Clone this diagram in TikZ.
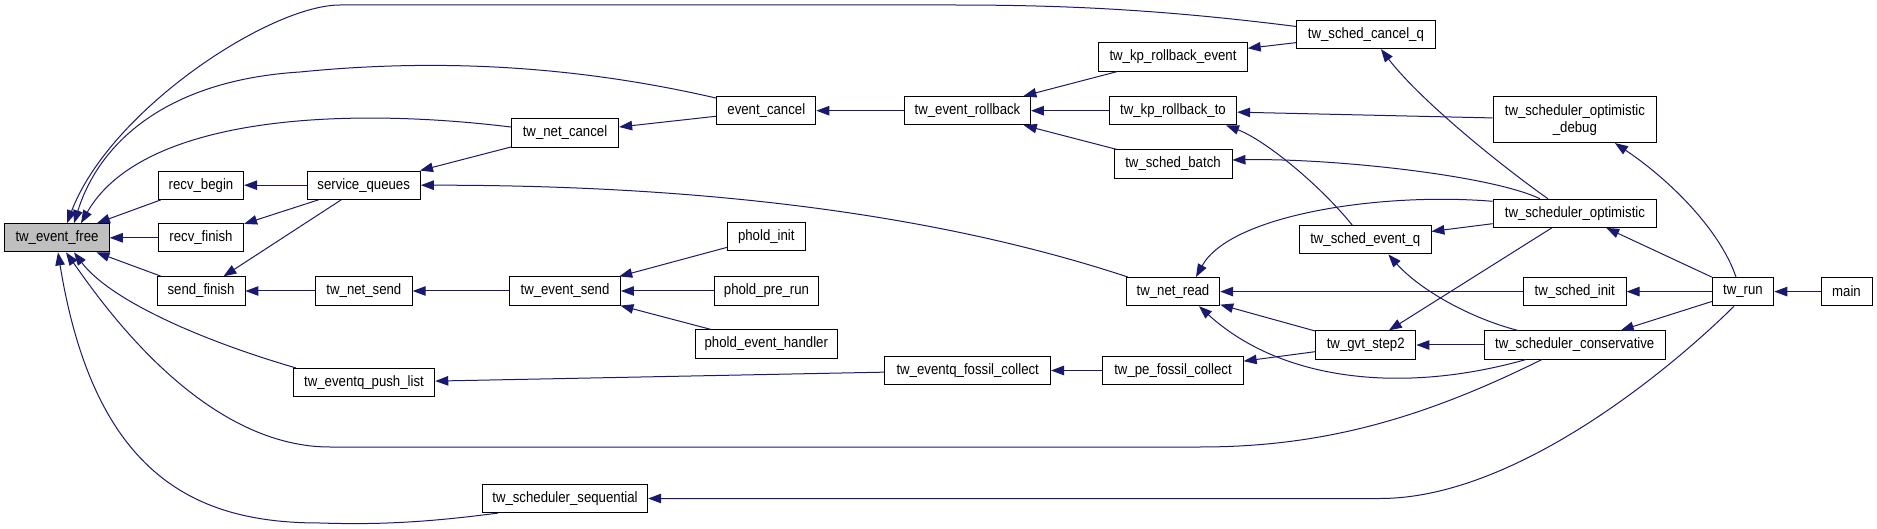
\documentclass[tikz,border=0pt]{standalone}
\usepackage{fontspec}
\setmainfont{Liberation Sans}[FakeStretch=0.88]
\usetikzlibrary{arrows.meta}
\definecolor{edgec}{HTML}{191970}
\definecolor{greyfill}{HTML}{BFBFBF}
\begin{document}
\begin{tikzpicture}[x=1pt,y=-1pt,
  box/.style={draw=black, line width=0.9pt, fill=white, minimum height=28.3pt, inner sep=0pt, font=\fontsize{15}{17}\selectfont},
  call/.style={draw=edgec, line width=1pt, -{Triangle[length=13pt,width=9.5pt]}}]
\useasboundingbox (0,0) rectangle (1877,529);
% column 1
\node[box, minimum width=104.6pt, fill=greyfill] (tef) at (57,237.8) {tw\_event\_free};
% column 2
\node[box, minimum width=85.3pt] (rb) at (201,185.2) {recv\_begin};
\node[box, minimum width=85.3pt] (rf) at (201,237.8) {recv\_finish};
\node[box, minimum width=88pt] (sf) at (201,291) {send\_finish};
% column 3
\node[box, minimum width=113.4pt] (sq) at (363.7,185.2) {service\_queues};
\node[box, minimum width=96.7pt] (tns) at (363.9,291) {tw\_net\_send};
\node[box, minimum width=141.6pt] (pl) at (364,382.5) {tw\_eventq\_push\_list};
% column 4
\node[box, minimum width=107.4pt] (tnc) at (565,133) {tw\_net\_cancel};
\node[box, minimum width=111pt] (tes) at (565,291) {tw\_event\_send};
\node[box, minimum width=165.4pt] (sseq) at (565,498.5) {tw\_scheduler\_sequential};
% column 5
\node[box, minimum width=99.2pt] (ec) at (766.3,110.7) {event\_cancel};
\node[box, minimum width=78pt] (pi) at (766.3,236.8) {phold\_init};
\node[box, minimum width=103.7pt] (ppr) at (766.5,291) {phold\_pre\_run};
\node[box, minimum width=141.6pt] (peh) at (766.3,344) {phold\_event\_handler};
% column 6
\node[box, minimum width=126pt] (ter) at (967.5,110.7) {tw\_event\_rollback};
\node[box, minimum width=165.7pt] (efc) at (967.7,370.5) {tw\_eventq\_fossil\_collect};
% column 7
\node[box, minimum width=148.5pt] (kpre) at (1173,57) {tw\_kp\_rollback\_event};
\node[box, minimum width=127.3pt] (kprt) at (1173,110.7) {tw\_kp\_rollback\_to};
\node[box, minimum width=118pt] (sb) at (1173,164) {tw\_sched\_batch};
\node[box, minimum width=93.5pt] (nr) at (1173,291.6) {tw\_net\_read};
\node[box, minimum width=140.4pt] (pfc) at (1173,370.5) {tw\_pe\_fossil\_collect};
% column 8
\node[box, minimum width=138.4pt] (cq) at (1365.9,34.5) {tw\_sched\_cancel\_q};
\node[box, minimum width=131.3pt] (sevq) at (1365.3,239.8) {tw\_sched\_event\_q};
\node[box, minimum width=100.4pt] (gvt) at (1365.7,345) {tw\_gvt\_step2};
% column 9
\node[box, minimum width=163.7pt, minimum height=45.7pt, align=center] (dbg) at (1574.9,119.8) {tw\_scheduler\_optimistic\\\_debug};
\node[box, minimum width=163.7pt] (opt) at (1574.9,213.3) {tw\_scheduler\_optimistic};
\node[box, minimum width=102.8pt] (sinit) at (1574.7,291.6) {tw\_sched\_init};
\node[box, minimum width=181.3pt] (cons) at (1574.7,345) {tw\_scheduler\_conservative};
% column 10, 11
\node[box, minimum width=61.6pt] (run) at (1743,291.6) {tw\_run};
\node[box, minimum width=51pt] (main) at (1846.5,291.6) {main};

% edges into tw_event_free
\draw[call] (rb) -- (tef);
\draw[call] (rf) -- (tef);
\draw[call] (sf) -- (tef);
\draw[call] ([yshift=6pt]tnc.west) .. controls (330,105) and (140,120) .. ([xshift=24pt]tef.north);
\draw[call] ([yshift=-2pt]ec.north west) .. controls (560,62) and (420,60) .. (300,72) .. controls (170,80) and (100,140) .. ([xshift=17pt]tef.north);
\draw[call] ([yshift=8pt]cq.west) .. controls (1150,8) and (1050,5) .. (950,5) -- (340,5) .. controls (270,5) and (110,110) .. ([xshift=10pt]tef.north);
\draw[call] ([xshift=3pt]pl.north west) .. controls (200,340) and (110,300) .. ([xshift=17pt]tef.south);
\draw[call] ([xshift=-33pt]cons.south) .. controls (1420,420) and (1320,447) .. (1200,447) -- (330,447) .. controls (200,447) and (100,300) .. ([xshift=9pt]tef.south);
\draw[call] ([xshift=16pt]sseq.south west) .. controls (430,522) and (380,525) .. (320,523) .. controls (200,523) and (95,480) .. ([xshift=1pt]tef.south);

% other edges
\draw[call] (sq) -- (rb);
\draw[call] (sq) -- (rf);
\draw[call] (sq) -- (sf);
\draw[call] (tns) -- (sf);
\draw[call] (tnc) -- (sq);
\draw[call] ([xshift=2pt]nr.north west) .. controls (970,225) and (750,185) .. (sq.east);
\draw[call] (ec) -- (tnc);
\draw[call] (ter) -- (ec);
\draw[call] (kpre) -- (ter);
\draw[call] (kprt) -- (ter);
\draw[call] (sb) -- (ter);
\draw[call] (cq) -- (kpre);
\draw[call] ([xshift=-27pt]opt.north) .. controls (1500,165) and (1420,100) .. ([xshift=15pt]cq.south);
\draw[call] (dbg) -- (kprt);
\draw[call] ([xshift=-13pt]sevq.north) .. controls (1320,185) and (1265,140) .. ([xshift=53pt]kprt.south);
\draw[call] ([xshift=-35pt]opt.north) .. controls (1490,175) and (1330,158) .. ([yshift=4pt]sb.east);
\draw[call] ([yshift=12pt]opt.west) .. controls (1380,192) and (1230,215) .. ([xshift=23pt]nr.north);
\draw[call] (opt) -- (sevq);
\draw[call] (opt) -- (gvt);
\draw[call] (run) -- (opt);
\draw[call] ([xshift=-7pt]run.north) .. controls (1720,230) and (1670,180) .. ([xshift=40pt]dbg.south);
\draw[call] (run) -- (sinit);
\draw[call] (run) -- (cons);
\draw[call] ([xshift=-9pt]run.south) .. controls (1680,360) and (1520,498.5) .. (1380,498.5) -- (sseq.east);
\draw[call] (main) -- (run);
\draw[call] (sinit) -- (nr);
\draw[call] (gvt) -- (nr);
\draw[call] ([xshift=-49pt]cons.south) .. controls (1400,395) and (1280,380) .. ([xshift=26pt]nr.south);
\draw[call] (gvt) -- (pfc);
\draw[call] (cons) -- (gvt);
\draw[call] ([xshift=-57pt]cons.north) .. controls (1470,318) and (1420,290) .. ([xshift=23pt]sevq.south);
\draw[call] (pfc) -- (efc);
\draw[call] (efc) -- (pl);
\draw[call] (tes) -- (tns);
\draw[call] (pi) -- (tes);
\draw[call] (ppr) -- (tes);
\draw[call] (peh) -- (tes);
\end{tikzpicture}
\end{document}
